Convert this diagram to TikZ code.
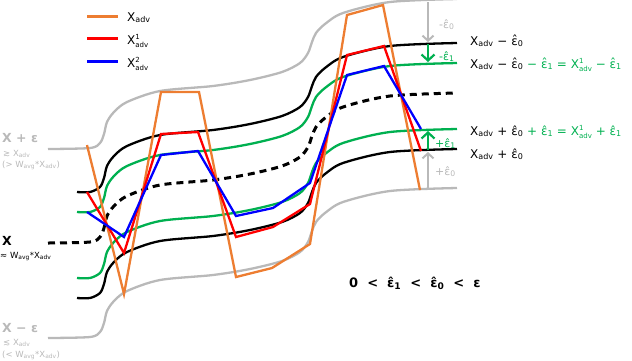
\documentclass[tikz,border=0pt]{standalone}
\usepackage{fontspec}
\setmainfont{DejaVu Sans}
\usetikzlibrary{arrows.meta}
\definecolor{cor}{RGB}{237,125,49}
\definecolor{cgr}{RGB}{0,176,80}
\definecolor{cgy}{RGB}{185,185,185}
\definecolor{cred}{RGB}{255,0,0}
\definecolor{cblu}{RGB}{0,0,255}
\newcommand\Xa{X\textsubscript{adv}}
\newcommand\Xst[1]{X\raisebox{-0.28em}{\fontsize{7}{7}\selectfont\shortstack[l]{#1\\adv}}}
\newcommand\Xo{\Xst{1}}
\newcommand\Xt{\Xst{2}}
\newcommand\eh[1]{ε^^^^0302\textsubscript{#1}}
\newcommand\wavecurve[2]{\draw[#1] plot[smooth,tension=0.5] coordinates {#2 (90,192) (100,187) (104,178) (107,166) (114,156) (127,146) (160,135) (213,130) (250,124) (282,116) (300,107) (308,97) (312,86) (316,77) (325,68) (343,57) (390,46) (457,43)};}
\begin{document}
\begin{tikzpicture}[x=1pt,y=-1pt,
  wv/.style={line width=2.3pt},
  pl/.style={line width=2.3pt,line join=miter},
  lab/.style={inner sep=0pt,anchor=base west,font=\fontsize{12}{14}\selectfont},
  big/.style={inner sep=0pt,anchor=base west,font=\fontsize{12.5}{14}\selectfont\bfseries},
  sml/.style={inner sep=0pt,anchor=base west,font=\fontsize{8.5}{10}\selectfont},
  arl/.style={inner sep=0pt,anchor=base west,font=\fontsize{11}{13}\selectfont},
  garr/.style={cgy,line width=2pt,-{Straight Barb[length=5pt,width=11pt]}},
  narr/.style={cgr,line width=2.2pt,-{Straight Barb[length=6pt,width=13pt]}}]
\useasboundingbox (0,0) rectangle (632,360);
% band curves
\wavecurve{cgy,wv,shift={(0,-44)}}{(48,193)}
\wavecurve{cgy,wv,shift={(0,145)}}{(48,193)}
\wavecurve{black,wv}{(77,192)}
\wavecurve{black,wv,shift={(0,106)}}{(77,192)}
\wavecurve{cgr,wv,shift={(0,20)}}{(77,192)}
\wavecurve{cgr,wv,shift={(0,86)}}{(77,192)}
\wavecurve{black,line width=3pt,dash pattern=on 7pt off 5pt,shift={(0,50)}}{(48,193)}
% adversarial polylines
\draw[cor,pl] (87,145) -- (124,294) -- (161,92) -- (199,92) -- (236,277) -- (272,268) -- (310,244) -- (347,15) -- (383,5) -- (420,190);
\draw[cred,pl] (87,192) -- (124,253) -- (161,134) -- (198,132) -- (236,237) -- (273,227) -- (310,204) -- (347,55) -- (384,46) -- (421,151);
\draw[cblu,pl] (87,212) -- (124,237) -- (161,155) -- (198,151) -- (236,216) -- (273,208) -- (310,183) -- (347,75) -- (384,66) -- (421,129);
% arrows
\coordinate (a0) at (428,2);
\coordinate (a1) at (428,42);
\coordinate (a2) at (428,44);
\coordinate (a3) at (428,62);
\coordinate (b0) at (428,190);
\coordinate (b1) at (428,152);
\coordinate (b2) at (428,150);
\coordinate (b3) at (428,131);
\draw[garr] (a0) -- (a1);
\draw[narr] (a2) -- (a3);
\draw[narr] (b2) -- (b3);
\draw[garr] (b0) -- (b1);
\node[arl,text=cgy] (la0) at (439,28) {-\eh{0}};
\node[arl,text=cgr] (la1) at (439,60) {-\eh{1}};
\node[arl,text=cgr] (lb1) at (435,147) {+\eh{1}};
\node[arl,text=cgy] (lb0) at (435,175) {+\eh{0}};
% right labels
\node[lab] (r1) at (470,45) {\Xa{} − \eh{0}};
\node[lab] (r2) at (470,68) {\Xa{} − \eh{0} \textcolor{cgr}{− \eh{1} = \Xo{} − \eh{1}}};
\node[lab] (r3) at (470,135) {\Xa{} + \eh{0} \textcolor{cgr}{+ \eh{1} = \Xo{} + \eh{1}}};
\node[lab] (r4) at (470,158) {\Xa{} + \eh{0}};
% legend
\coordinate (g1a) at (87,16); \coordinate (g1b) at (118,16);
\coordinate (g2a) at (87,38); \coordinate (g2b) at (118,38);
\coordinate (g3a) at (87,61); \coordinate (g3b) at (118,61);
\draw[cor,line width=3pt] (g1a) -- (g1b);
\draw[cred,line width=3pt] (g2a) -- (g2b);
\draw[cblu,line width=3pt] (g3a) -- (g3b);
\node[lab] (t1) at (127,21) {\Xa};
\node[lab] (t2) at (127,44) {\Xo};
\node[lab] (t3) at (127,67) {\Xt};
% left labels
\node[big,text=cgy] (lp1) at (2,142) {X + ε};
\node[sml,text=cgy] (lp2) at (3,156) {≳ \Xa};
\node[sml,text=cgy] (lp3) at (2,167) {(> W\textsubscript{avg}*\Xa)};
\node[big] (lm1) at (2,245) {X};
\node[sml] (lm2) at (0,258) {≈ W\textsubscript{avg}*\Xa};
\node[big,text=cgy] (ln1) at (2,332) {X − ε};
\node[sml,text=cgy] (ln2) at (3,345) {≲ \Xa};
\node[sml,text=cgy] (ln3) at (2,357) {(< W\textsubscript{avg}*\Xa)};
% inequality
\node[inner sep=0pt,anchor=base west,font=\fontsize{13}{15}\selectfont\bfseries] (ineq) at (349,287) {0 \ < \ \eh{1} \ < \ \eh{0} \ < \ ε};
\end{tikzpicture}
\end{document}
